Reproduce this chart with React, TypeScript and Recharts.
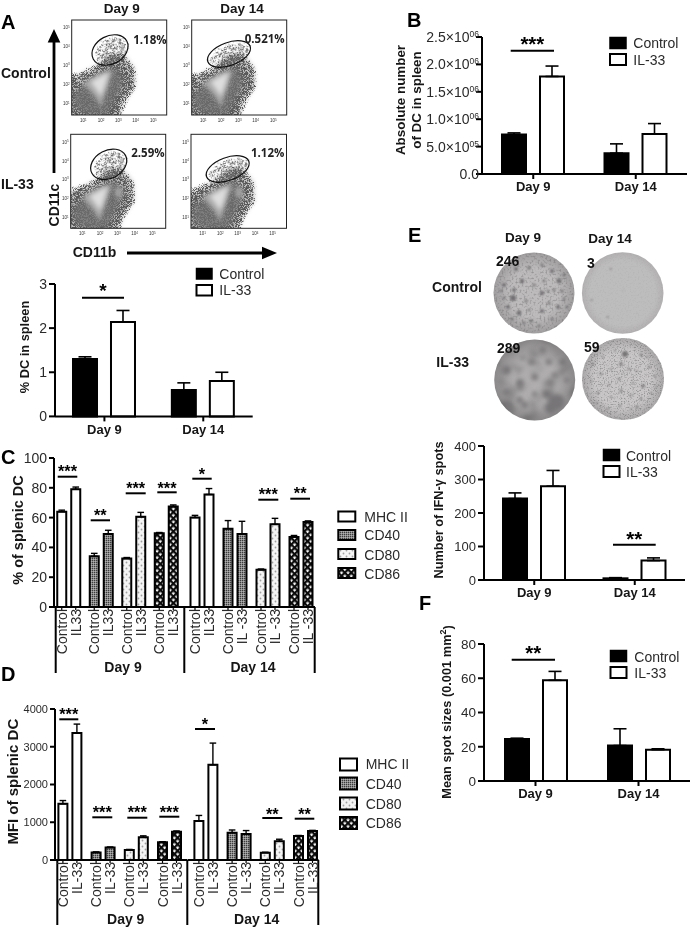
import React from "react";
import { BarChart, Bar, XAxis, YAxis, ErrorBar, Cell, LabelList } from "recharts";

const FONT = "'Liberation Sans', Arial, sans-serif";
const INK = "#161616";

// ---------- data ----------
const days = ["Day 9", "Day 14"];
const groups = ["Control", "IL-33"];
const markers = ["MHC II", "CD40", "CD80", "CD86"];

const aControl = [1.3, 0.6];
const aIl33 = [2.14, 0.8];
const aControlTop = [1.35, 0.76];
const aIl33Top = [2.4, 1.0];
const aTicks = [0, 1, 2, 3];

const bControl = [720000, 380000];
const bIl33 = [1780000, 730000];
const bControlTop = [750000, 550000];
const bIl33Top = [1970000, 920000];
const bTicks = [0, 500000, 1000000, 1500000, 2000000, 2500000];
const bTickText = ["0.0", "5.0×10", "1.0×10", "1.5×10", "2.0×10", "2.5×10"];
const bTickExp = ["", "05", "06", "06", "06", "06"];

const eControl = [243, 5];
const eIl33 = [280, 58];
const eControlTop = [260, 7];
const eIl33Top = [327, 66];
const eTicks = [0, 100, 200, 300, 400];

const fControl = [24.5, 20.7];
const fIl33 = [58.8, 18.3];
const fControlTop = [25, 30.5];
const fIl33Top = [64, 18.8];
const fTicks = [0, 20, 40, 60, 80];

const cControl9 = [64, 34, 32.5, 49.5];
const cIl339 = [79, 49, 60.5, 67.5];
const cControl9Top = [65, 36, 33.2, 50];
const cIl339Top = [80.5, 51.5, 63.5, 68.5];
const cControl14 = [60, 52.5, 25, 47];
const cIl3314 = [75.5, 49, 55.5, 57];
const cControl14Top = [61.5, 58, 25.5, 48];
const cIl3314Top = [79.5, 57.5, 59.5, 57.8];
const cTicks = [0, 20, 40, 60, 80, 100];
const cNames9 = ["IL33", "IL33", "IL33", "IL33"];
const cNames14 = ["IL33", "IL -33", "IL -33", "IL -33"];

const dControl9 = [1487, 200, 265, 470];
const dIl339 = [3363, 330, 600, 750];
const dControl9Top = [1575, 215, 280, 485];
const dIl339Top = [3600, 345, 640, 770];
const dControl14 = [1035, 725, 195, 637];
const dIl3314 = [2520, 690, 495, 770];
const dControl14Top = [1180, 795, 205, 650];
const dIl3314Top = [3097, 780, 550, 785];
const dTicks = [0, 1000, 2000, 3000, 4000];
const dNames = ["IL-33", "IL-33", "IL-33", "IL-33"];

// ELISPOT well spots: [dx, dy, r]
const well1Spots = [[-21,5,3],[-30,-8,2],[-12,-12,2.2],[-5,-25,1.8],[8,-28,1.6],[18,-22,2],[25,-12,2.4],[28,-2,1.6],[-26,14,2],[-15,20,2.4],[-8,8,1.5],[8,0,2.2],[15,10,1.6],[24,14,2],[30,6,1.4],[-3,28,1.8],[8,18,2],[18,26,1.6],[0,-8,1.5],[10,-12,1.4],[-18,-24,2],[-30,5,1.5],[-22,26,1.6],[5,33,1.4],[30,-18,1.6],[-33,-2,1.4],[14,-2,1.3],[-10,30,1.5],[33,14,1.4],[-5,17,1.3],[20,-3,1.5],[-20,-3,2]];
const well2Spots = [[-12,-24,1],[-31,7,1],[-15,24,1],[1,-3,0.5]];
const well3Spots = [[-28,-10,4],[-15,3,3.5],[-28,12,3],[-15,20,3],[0,-3,3.2],[8,-30,3],[14,-18,3],[28,-18,3.5],[-3,-18,2.5],[12,14,4],[22,22,8],[16,28,6],[-10,25,3],[-26,25,3],[32,0,2.5],[-12,-22,2],[0,14,2.5],[20,-5,2.5]];
const well4Spots = [[2,-25,3],[-2,-15,1.8],[20,7,1.8],[18,-24,1.4],[-30,-15,1.2],[-20,-22,1],[-12,-10,1],[-22,-5,1.2],[-32,2,1],[-14,6,1],[-4,0,1.2],[6,-10,1.2],[14,-8,1],[26,-12,1.2],[32,-3,1],[10,4,1],[-25,14,1.2],[-12,18,1],[-2,12,1.4],[8,16,1],[18,20,1.2],[28,14,1],[-15,30,1],[-3,27,1.2],[8,30,1],[24,-22,1],[-8,-28,1],[-26,24,1],[33,8,0.9],[0,-6,0.8],[14,28,1.4]];

const markerFills = ["#fff", "url(#pCD40)", "url(#pCD80)", "url(#pCD86)"];

function rows(cats: string[], c: number[], i: number[], cTop: number[], iTop: number[], names?: string[]) {
  return cats.map((name, k) => ({
    name,
    control: c[k],
    il33: i[k],
    controlErr: [0, cTop[k] - c[k]],
    il33Err: [0, iTop[k] - i[k]],
    il33Name: names ? names[k] : "IL-33",
  }));
}

// ---------- two-group panels (A, B, E, F) ----------
type Box = { l: number; r: number; t: number; b: number };

function SimpleChart({ box, data, ticks, yW, fs, tickFn }: any) {
  const mt = 8;
  const xH = 30;
  const yMax = ticks[ticks.length - 1];
  return (
    <div style={{ position: "absolute", left: box.l - yW, top: box.t - mt }}>
      <BarChart
        width={box.r - box.l + yW + 2}
        height={box.b - box.t + mt + xH}
        data={data}
        margin={{ top: mt, right: 2, bottom: 0, left: 0 }}
        barSize={24}
        barGap={14}
      >
        <XAxis
          dataKey="name"
          height={xH}
          axisLine={{ stroke: "#000", strokeWidth: 2 }}
          tickLine={{ stroke: "#000", strokeWidth: 2 }}
          tickSize={5}
          tickMargin={3}
          interval={0}
          tick={{ fontFamily: FONT, fontSize: 13, fontWeight: 700, fill: INK }}
        />
        <YAxis
          width={yW}
          domain={[0, yMax]}
          ticks={ticks}
          interval={0}
          axisLine={{ stroke: "#000", strokeWidth: 2 }}
          tickLine={{ stroke: "#000", strokeWidth: 2 }}
          tickSize={6}
          tickMargin={2}
          tick={tickFn || { fontFamily: FONT, fontSize: fs, fill: "#2a2a2a" }}
        />
        <Bar dataKey="control" fill="#000" stroke="#000" strokeWidth={2} isAnimationActive={false}>
          <ErrorBar dataKey="controlErr" direction="y" width={6.5} stroke="#000" strokeWidth={1.6} isAnimationActive={false} />
        </Bar>
        <Bar dataKey="il33" fill="#fff" stroke="#000" strokeWidth={2} isAnimationActive={false}>
          <ErrorBar dataKey="il33Err" direction="y" width={6.5} stroke="#000" strokeWidth={1.6} isAnimationActive={false} />
        </Bar>
      </BarChart>
    </div>
  );
}

function BTick(p: any) {
  const k = bTicks.indexOf(p.payload.value);
  return (
    <text x={p.x + 5} y={p.y + 5} textAnchor="end" fontFamily={FONT} fontSize={14} fill="#2a2a2a">
      {bTickText[k]}
      {bTickExp[k] ? <tspan dy={-5} fontSize={8.5}>{bTickExp[k]}</tspan> : null}
    </text>
  );
}

// ---------- marker panels (C, D) ----------
function BarName(props: any) {
  const { x, y, width, height, value, nameFs } = props;
  const cx = x + width / 2;
  const base = y + height;
  return (
    <g>
      <line x1={cx} x2={cx} y1={base} y2={base + 3} stroke="#000" strokeWidth={1.2} />
      <text
        transform={`translate(${cx + 5},${base + 2}) rotate(-90)`}
        textAnchor="end"
        fontFamily={FONT}
        fontSize={nameFs}
        fill="#2a2a2a"
      >
        {value}
      </text>
    </g>
  );
}

function MarkerChart({ box, data, ticks, yW, showY, padding, fs, barGap }: any) {
  const mt = 8;
  const xH = 60;
  const yMax = ticks[ticks.length - 1];
  return (
    <div style={{ position: "absolute", left: box.l - yW, top: box.t - mt }}>
      <BarChart
        width={box.r - box.l + yW + 2}
        height={box.b - box.t + mt + xH}
        data={data}
        margin={{ top: mt, right: 2, bottom: 0, left: 0 }}
        barSize={9}
        barGap={barGap}
      >
        <XAxis
          dataKey="name"
          height={xH}
          padding={padding}
          axisLine={{ stroke: "#000", strokeWidth: 2 }}
          tick={false}
          tickLine={false}
        />
        <YAxis
          hide={!showY}
          width={yW}
          domain={[0, yMax]}
          ticks={ticks}
          interval={0}
          axisLine={{ stroke: "#000", strokeWidth: 2 }}
          tickLine={{ stroke: "#000", strokeWidth: 2 }}
          tickSize={5}
          tickMargin={2}
          tick={{ fontFamily: FONT, fontSize: fs, fill: "#2a2a2a" }}
        />
        <Bar dataKey="control" stroke="#000" strokeWidth={2} isAnimationActive={false}>
          {data.map((_: any, k: number) => (
            <Cell key={k} fill={markerFills[k]} />
          ))}
          <ErrorBar dataKey="controlErr" direction="y" width={3.3} stroke="#000" strokeWidth={1.4} isAnimationActive={false} />
          <LabelList dataKey={() => groups[0]} content={(p: any) => <BarName {...p} nameFs={14} />} />
        </Bar>
        <Bar dataKey="il33" stroke="#000" strokeWidth={2} isAnimationActive={false}>
          {data.map((_: any, k: number) => (
            <Cell key={k} fill={markerFills[k]} />
          ))}
          <ErrorBar dataKey="il33Err" direction="y" width={3.3} stroke="#000" strokeWidth={1.4} isAnimationActive={false} />
          <LabelList dataKey="il33Name" content={(p: any) => <BarName {...p} nameFs={14} />} />
        </Bar>
      </BarChart>
    </div>
  );
}

// ---------- overlay helpers ----------
function T({ x, y, s, b, a, c, f, children }: any) {
  return (
    <text
      x={x}
      y={y}
      fontFamily={f || FONT}
      fontSize={s}
      fontWeight={b ? 700 : 400}
      textAnchor={a || "start"}
      dominantBaseline="central"
      fill={c || INK}
    >
      {children}
    </text>
  );
}

function VT({ x, y, s, children }: any) {
  return (
    <text
      transform={`translate(${x},${y}) rotate(-90)`}
      fontFamily={FONT}
      fontSize={s}
      fontWeight={700}
      textAnchor="middle"
      dominantBaseline="central"
      fill={INK}
    >
      {children}
    </text>
  );
}

function Sig({ x1, x2, y, sy, n, fs, sx }: any) {
  const cx = sx ?? (x1 + x2) / 2;
  return (
    <g>
      <line x1={x1} x2={x2} y1={y} y2={y} stroke="#000" strokeWidth={2} />
      <text x={cx} y={sy + fs * 0.56} textAnchor="middle" fontFamily={FONT} fontSize={fs} fontWeight={700} fill="#000">
        {"*".repeat(n)}
      </text>
    </g>
  );
}

function TwoLegend({ x, y1, y2, w, h, tx, c1, c2 }: any) {
  return (
    <g>
      <rect x={x} y={y1} width={w} height={h} fill="#000" stroke="#000" strokeWidth={1.5} />
      <rect x={x} y={y2} width={w} height={h} fill="#fff" stroke="#000" strokeWidth={2} />
      <T x={tx} y={c1} s={14} c="#2a2a2a">{groups[0]}</T>
      <T x={tx} y={c2} s={14} c="#2a2a2a">{groups[1]}</T>
    </g>
  );
}

function MarkerLegend({ x, w, h, ys, tx, cs }: any) {
  return (
    <g>
      {markers.map((m, k) => (
        <g key={m}>
          <rect x={x} y={ys[k]} width={w} height={h} fill={markerFills[k]} stroke="#000" strokeWidth={2} />
          <T x={tx} y={cs[k]} s={14} c="#2a2a2a">{m}</T>
        </g>
      ))}
    </g>
  );
}

const logX = [11.7, 29.3, 46.7, 64, 81.7];
const logY = [85, 66, 46.7, 28.3, 9.3];

function FlowPlot({ x, y, w, h, el, pct, px, py, il33, id }: any) {
  return (
    <g transform={`translate(${x},${y})`}>
      <clipPath id={id}>
        <rect x={0} y={0} width={w} height={h} />
      </clipPath>
      <g clipPath={`url(#${id})`}>
        <rect width={w} height={h} fill="#fff" />
        <path d="M-4,60 L22,48 L40,34 L52,35 L62,48 L63,66 L53,80 L46,98 L-4,98 Z" fill="#8c8c8c" opacity={0.55} filter="url(#blur25)" />
        <path d="M-6,54 L22,44 L40,30 L52,31 L66,47 L67,68 L56,84 L49,102 L-6,102 Z" filter="url(#stip)" fill="#000" />
        <ellipse cx={el.cx + 1} cy={el.cy + 1} rx={el.rx + 2} ry={el.ry + 2} transform={`rotate(${el.rot} ${el.cx} ${el.cy})`} filter="url(#stipGate)" fill="#000" />
        <path d="M2,72 L14,64 L34,50 L45,46 L52,58 L50,70 L44,80 L36,96 L20,96 L8,92 L2,86 Z" fill="#6e6e6e" opacity={0.8} filter="url(#blur25)" />
        <path d="M44,42 L28,48 L36,38 L46,36 Z" fill="#666" opacity={0.45} filter="url(#blur25)" />
        {il33 ? <ellipse cx={48} cy={58} rx={4} ry={6} fill="#a2a2a2" filter="url(#blur2)" /> : null}
        <path d="M11,63 L26,54 L41,50 L36,66 L29,87 L23,76 Z" fill="#ababab" filter="url(#blur2)" />
        <path d="M19,62 L37,52 L33,66 L29,76 L25,70 Z" fill="#dedede" filter="url(#blur2)" />
      </g>
      <rect width={w} height={h} fill="none" stroke="#222" strokeWidth={1} />
      <ellipse cx={el.cx} cy={el.cy} rx={el.rx} ry={el.ry} transform={`rotate(${el.rot} ${el.cx} ${el.cy})`} fill="none" stroke="#111" strokeWidth={1.2} />
      {logX.map((v, k) => (
        <text key={k} x={v} y={h + 7} fontSize={4.5} fontFamily={FONT} textAnchor="middle" fill="#333">
          10<tspan dy={-1.5} fontSize={3}>{k + 1}</tspan>
        </text>
      ))}
      {logY.map((v, k) => (
        <text key={k} x={-2} y={v} fontSize={4.5} fontFamily={FONT} textAnchor="end" fill="#333">
          10<tspan dy={-1.5} fontSize={3}>{k + 1}</tspan>
        </text>
      ))}
      <T x={px} y={py} s={11.5} b f="'Open Sans', sans-serif" c="#222">{pct}</T>
    </g>
  );
}

function Well({ id, cx, cy, r, base, filter, spots, spotColor, spotBlur }: any) {
  return (
    <g>
      <circle cx={cx} cy={cy} r={r} fill={`url(#${base})`} />
      <clipPath id={id}>
        <circle cx={cx} cy={cy} r={r} />
      </clipPath>
      <g clipPath={`url(#${id})`}>
        <rect x={cx - r} y={cy - r} width={2 * r} height={2 * r} fill="#000" filter={`url(#${filter})`} />
        <g filter={`url(#${spotBlur})`} fill={spotColor}>
          {spots.map((s: number[], k: number) => (
            <circle key={k} cx={cx + s[0]} cy={cy + s[1]} r={s[2]} />
          ))}
        </g>
      </g>
    </g>
  );
}

function spotFilter(id: string, freq: number, seed: number, slope: number, icpt: number, blur: number, color: string, op: number) {
  return (
    <filter id={id} x="0" y="0" width="100%" height="100%" colorInterpolationFilters="sRGB">
      <feTurbulence type="fractalNoise" baseFrequency={freq} numOctaves={3} seed={seed} result="n" />
      <feColorMatrix in="n" type="matrix" values="0 0 0 0 0 0 0 0 0 0 0 0 0 0 0 1 0 0 0 0" result="na" />
      <feComponentTransfer in="na" result="th">
        <feFuncA type="linear" slope={slope} intercept={icpt} />
      </feComponentTransfer>
      <feGaussianBlur in="th" stdDeviation={blur} result="bl" />
      <feFlood floodColor={color} floodOpacity={op} result="fl" />
      <feComposite in="fl" in2="bl" operator="in" />
    </filter>
  );
}

function Defs() {
  return (
    <defs>
      <pattern id="pCD40" width={2} height={2} patternUnits="userSpaceOnUse">
        <rect width={2} height={2} fill="#8a8a8a" />
        <rect width={1} height={1} fill="#3c3c3c" />
        <rect x={1} y={1} width={1} height={1} fill="#b0b0b0" />
      </pattern>
      <pattern id="pCD80" width={6} height={6} patternUnits="userSpaceOnUse">
        <rect width={6} height={6} fill="#f4f4f4" />
        <circle cx={1.5} cy={1.5} r={0.9} fill="#a0a0a0" />
        <circle cx={4.5} cy={4.5} r={0.9} fill="#a0a0a0" />
      </pattern>
      <pattern id="pCD86" width={4.6} height={4.6} patternUnits="userSpaceOnUse" patternTransform="rotate(45)">
        <rect width={4.6} height={4.6} fill="#0a0a0a" />
        <rect x={1.3} y={1.3} width={2.4} height={2.4} fill="#f2f2f2" />
      </pattern>
      <filter id="blur07" x="-5%" y="-5%" width="110%" height="110%"><feGaussianBlur stdDeviation={1} /></filter>
      <filter id="blur15" x="-5%" y="-5%" width="110%" height="110%"><feGaussianBlur stdDeviation={2} /></filter>
      <filter id="blur2" x="-30%" y="-30%" width="160%" height="160%"><feGaussianBlur stdDeviation={2} /></filter>
      <filter id="blur25" x="-30%" y="-30%" width="160%" height="160%"><feGaussianBlur stdDeviation={2.5} /></filter>
      <filter id="stip" x="-20%" y="-20%" width="140%" height="140%" colorInterpolationFilters="sRGB">
        <feGaussianBlur in="SourceAlpha" stdDeviation={3.5} result="b" />
        <feTurbulence type="fractalNoise" baseFrequency={1.7} numOctaves={2} seed={7} result="n" />
        <feColorMatrix in="n" type="matrix" values="0 0 0 0 0 0 0 0 0 0 0 0 0 0 0 1 0 0 0 0" result="na" />
        <feComposite in="na" in2="b" operator="arithmetic" k1={1.6} k2={0} k3={0} k4={0} result="m" />
        <feComponentTransfer in="m" result="th"><feFuncA type="linear" slope={4} intercept={-2.5} /></feComponentTransfer>
        <feFlood floodColor="#585858" result="fl" />
        <feComposite in="fl" in2="th" operator="in" />
      </filter>
      <filter id="stipGate" x="-30%" y="-30%" width="160%" height="160%" colorInterpolationFilters="sRGB">
        <feGaussianBlur in="SourceAlpha" stdDeviation={3} result="b" />
        <feTurbulence type="fractalNoise" baseFrequency={1.6} numOctaves={2} seed={11} result="n" />
        <feColorMatrix in="n" type="matrix" values="0 0 0 0 0 0 0 0 0 0 0 0 0 0 0 1 0 0 0 0" result="na" />
        <feComposite in="na" in2="b" operator="arithmetic" k1={1.4} k2={0} k3={0} k4={0} result="m" />
        <feComponentTransfer in="m" result="th"><feFuncA type="linear" slope={4} intercept={-2.6} /></feComponentTransfer>
        <feFlood floodColor="#666" result="fl" />
        <feComposite in="fl" in2="th" operator="in" />
      </filter>
      {spotFilter("w1", 0.5, 4, 3, -1.45, 0.5, "#5c5a5d", 0.4)}
      {spotFilter("w2", 0.6, 9, 1.5, -0.75, 0.5, "#7a787a", 0.2)}
      {spotFilter("w3", 0.07, 21, 3, -1.4, 2, "#4e4c4e", 0.5)}
      {spotFilter("w4", 0.7, 15, 3.5, -1.75, 0.4, "#5c5a5c", 0.45)}
      <radialGradient id="g1"><stop offset="0.6" stopColor="#bdbbbb" /><stop offset="1" stopColor="#a09e9f" /></radialGradient>
      <radialGradient id="g2"><stop offset="0.8" stopColor="#bebdbd" /><stop offset="1" stopColor="#b2b0b0" /></radialGradient>
      <radialGradient id="g3"><stop offset="0.5" stopColor="#b0aeae" /><stop offset="1" stopColor="#8c8a8b" /></radialGradient>
      <radialGradient id="g4"><stop offset="0.7" stopColor="#c8c6c6" /><stop offset="1" stopColor="#a9a7a7" /></radialGradient>
    </defs>
  );
}

function Overlay() {
  return (
    <svg width={690} height={928} style={{ position: "absolute", left: 0, top: 0 }}>
      <Defs />
      {/* panel letters */}
      <T x={1} y={22} s={20} b c="#000">A</T>
      <T x={407} y={20} s={20} b c="#000">B</T>
      <T x={1} y={457} s={20} b c="#000">C</T>
      <T x={1} y={674} s={20} b c="#000">D</T>
      <T x={408} y={235} s={20} b c="#000">E</T>
      <T x={419} y={603} s={20} b c="#000">F</T>

      {/* A: flow plots */}
      <T x={121.7} y={8} s={13.5} b a="middle">{days[0]}</T>
      <T x={242} y={8} s={13.5} b a="middle">{days[1]}</T>
      <T x={1} y={72.7} s={14} b>{groups[0]}</T>
      <T x={1} y={184} s={14} b>{groups[1]}</T>
      <FlowPlot id="f1" x={71.7} y={20} w={95} h={95} el={{ cx: 38.3, cy: 30, rx: 19, ry: 14, rot: -28 }} pct="1.18%" px={61.5} py={19} />
      <FlowPlot id="f2" x={191.7} y={20} w={95} h={95} el={{ cx: 37.3, cy: 34, rx: 22.5, ry: 11.5, rot: -20 }} pct="0.521%" px={53} py={18} />
      <FlowPlot id="f3" x={70.7} y={134.3} w={95} h={94} el={{ cx: 38, cy: 30, rx: 19, ry: 14, rot: -28 }} pct="2.59%" px={60.5} py={18.5} il33 />
      <FlowPlot id="f4" x={191} y={134.3} w={95.5} h={94} el={{ cx: 36.7, cy: 34.7, rx: 22.5, ry: 11.5, rot: -20 }} pct="1.12%" px={60} py={18} il33 />
      <line x1={54} x2={54} y1={173} y2={38} stroke="#000" strokeWidth={2.8} />
      <path d="M47.7,42.5 L60.3,42.5 L54,29 Z" fill="#000" />
      <VT x={54} y={205} s={14}>CD11c</VT>
      <T x={72.7} y={252} s={14} b>CD11b</T>
      <line x1={127} x2={264} y1={253} y2={253} stroke="#000" strokeWidth={2.8} />
      <path d="M262,246.7 L262,259.3 L277,253 Z" fill="#000" />
      <VT x={24} y={347} s={12.8}>% DC in spleen</VT>
      <TwoLegend x={196.5} y1={268.5} y2={285} w={15.5} h={10.5} tx={219.3} c1={274} c2={290} />
      <Sig x1={82} x2={124} y={297.7} sy={286.7} n={1} fs={19} sx={103} />

      {/* B */}
      <VT x={400.7} y={100} s={13.4}>Absolute number</VT>
      <VT x={416} y={100} s={13.4}>of DC in spleen</VT>
      <TwoLegend x={610} y1={37.5} y2={54} w={16} h={11} tx={633.3} c1={43.3} c2={60} />
      <Sig x1={510.7} x2={554} y={50.7} sy={40} n={3} fs={20.5} />

      {/* E */}
      <T x={523} y={237} s={13.5} b a="middle">{days[0]}</T>
      <T x={610} y={238} s={13.5} b a="middle">{days[1]}</T>
      <T x={457} y={287} s={14} b a="middle">{groups[0]}</T>
      <T x={452.7} y={362} s={14} b a="middle">{groups[1]}</T>
      <Well id="c1" cx={534} cy={293} r={40.5} base="g1" filter="w1" spots={well1Spots} spotColor="#727073" spotBlur="blur07" />
      <Well id="c2" cx={622.7} cy={293} r={40.8} base="g2" filter="w2" spots={well2Spots} spotColor="#7c7a7c" spotBlur="blur07" />
      <Well id="c3" cx={534.7} cy={380} r={40.5} base="g3" filter="w3" spots={well3Spots} spotColor="#777577" spotBlur="blur15" />
      <Well id="c4" cx={623} cy={379} r={41} base="g4" filter="w4" spots={well4Spots} spotColor="#767476" spotBlur="blur07" />
      <T x={496} y={261} s={14} b c="#111">246</T>
      <T x={587} y={263} s={14} b c="#111">3</T>
      <T x={497} y={348} s={14} b c="#111">289</T>
      <T x={584} y={347} s={14} b c="#111">59</T>
      <VT x={438.3} y={510} s={12.8}>Number of IFN-γ spots</VT>
      <TwoLegend x={603.5} y1={449.5} y2={466} w={16} h={11} tx={626} c1={456} c2={472} />
      <Sig x1={613} x2={655.7} y={544.7} sy={535} n={2} fs={20.5} />

      {/* F */}
      <VT x={446.7} y={712} s={12.8}>
        Mean spot sizes (0.001 mm<tspan dy={-4} fontSize={9}>2</tspan><tspan dy={4}>)</tspan>
      </VT>
      <TwoLegend x={610.5} y1={650.5} y2={667} w={16} h={11} tx={634.3} c1={656.7} c2={673} />
      <Sig x1={511.7} x2={555} y={659.7} sy={649} n={2} fs={20.5} />

      {/* C annotations */}
      <VT x={18.3} y={530} s={14.5}>% of splenic DC</VT>
      <MarkerLegend x={338.3} w={17} h={10} ys={[511.5, 530, 549, 568]} tx={364.3} cs={[516.7, 535, 555, 574]} />
      <Sig x1={57.7} x2={77.3} y={476.7} sy={468.3} n={3} fs={16.3} />
      <Sig x1={90.7} x2={110} y={520.3} sy={511.7} n={2} fs={16.3} />
      <Sig x1={125.7} x2={145.7} y={493.3} sy={485} n={3} fs={16.3} />
      <Sig x1={157.3} x2={176.7} y={492.3} sy={485} n={3} fs={16.3} />
      <Sig x1={192.3} x2={211.7} y={478.7} sy={470.7} n={1} fs={16.3} />
      <Sig x1={258.3} x2={278.3} y={499.7} sy={490.7} n={3} fs={16.3} />
      <Sig x1={290.3} x2={310} y={498.7} sy={490} n={2} fs={16.3} />
      {[55.7, 184.3, 314.7].map((x) => (
        <line key={x} x1={x} x2={x} y1={607} y2={673} stroke="#000" strokeWidth={2} />
      ))}
      <T x={123} y={667} s={14} b a="middle">{days[0]}</T>
      <T x={253} y={667} s={14} b a="middle">{days[1]}</T>

      {/* D annotations */}
      <VT x={12.7} y={781.7} s={15}>MFI of splenic DC</VT>
      <MarkerLegend x={340} w={17} h={12} ys={[758.5, 777.5, 797.5, 817]} tx={365.7} cs={[764.3, 783.7, 804, 823.3]} />
      <Sig x1={59.3} x2={78.3} y={719.3} sy={710.7} n={3} fs={16.3} />
      <Sig x1={92.3} x2={112.3} y={817.3} sy={809} n={3} fs={16.3} />
      <Sig x1={127.3} x2={147.3} y={817.7} sy={809.3} n={3} fs={16.3} />
      <Sig x1={159.3} x2={179.3} y={816.7} sy={809.3} n={3} fs={16.3} />
      <Sig x1={195} x2={215} y={729} sy={720.7} n={1} fs={16.3} />
      <Sig x1={262.3} x2={282.3} y={818} sy={811} n={2} fs={16.3} />
      <Sig x1={294.7} x2={314.3} y={818.7} sy={810.7} n={2} fs={16.3} />
      {[57.3, 187.3, 318.3].map((x) => (
        <line key={x} x1={x} x2={x} y1={860} y2={925} stroke="#000" strokeWidth={2} />
      ))}
      <T x={125.7} y={919} s={14} b a="middle">{days[0]}</T>
      <T x={256.7} y={919} s={14} b a="middle">{days[1]}</T>
    </svg>
  );
}

export default function App() {
  const boxA: Box = { l: 55, r: 252.7, t: 284.3, b: 416.7 };
  const boxB: Box = { l: 482, r: 687, t: 37, b: 174 };
  const boxE: Box = { l: 484, r: 685, t: 445.7, b: 579.7 };
  const boxF: Box = { l: 484, r: 690, t: 644.3, b: 781.3 };
  return (
    <div style={{ position: "absolute", left: 0, top: 0, width: 690, height: 928, overflow: "hidden", background: "#fff", filter: "blur(0.4px)" }}>
      <Overlay />
      <SimpleChart box={boxA} yW={30} fs={14} ticks={aTicks} data={rows(days, aControl, aIl33, aControlTop, aIl33Top)} />
      <SimpleChart box={boxB} yW={70} fs={14} ticks={bTicks} tickFn={BTick} data={rows(days, bControl, bIl33, bControlTop, bIl33Top)} />
      <SimpleChart box={boxE} yW={40} fs={13} ticks={eTicks} data={rows(days, eControl, eIl33, eControlTop, eIl33Top)} />
      <SimpleChart box={boxF} yW={40} fs={13.5} ticks={fTicks} data={rows(days, fControl, fIl33, fControlTop, fIl33Top)} />
      <MarkerChart box={{ l: 54, r: 184, t: 458, b: 607 }} yW={40} showY fs={14} barGap={5} padding={{ left: -1.75, right: 1.75 }} ticks={cTicks}
        data={rows(markers, cControl9, cIl339, cControl9Top, cIl339Top, cNames9)} />
      <MarkerChart box={{ l: 184, r: 315, t: 458, b: 607 }} yW={0} showY={false} fs={14} barGap={5} padding={{ left: 1.5, right: -2.5 }} ticks={cTicks}
        data={rows(markers, cControl14, cIl3314, cControl14Top, cIl3314Top, cNames14)} />
      <MarkerChart box={{ l: 55, r: 187.5, t: 709, b: 860 }} yW={40} showY fs={11} barGap={5} padding={{ left: -1.6, right: 1.3 }} ticks={dTicks}
        data={rows(markers, dControl9, dIl339, dControl9Top, dIl339Top, dNames)} />
      <MarkerChart box={{ l: 187.5, r: 318, t: 709, b: 860 }} yW={0} showY={false} fs={11} barGap={5} padding={{ left: 1.4, right: -3.7 }} ticks={dTicks}
        data={rows(markers, dControl14, dIl3314, dControl14Top, dIl3314Top, dNames)} />
    </div>
  );
}
